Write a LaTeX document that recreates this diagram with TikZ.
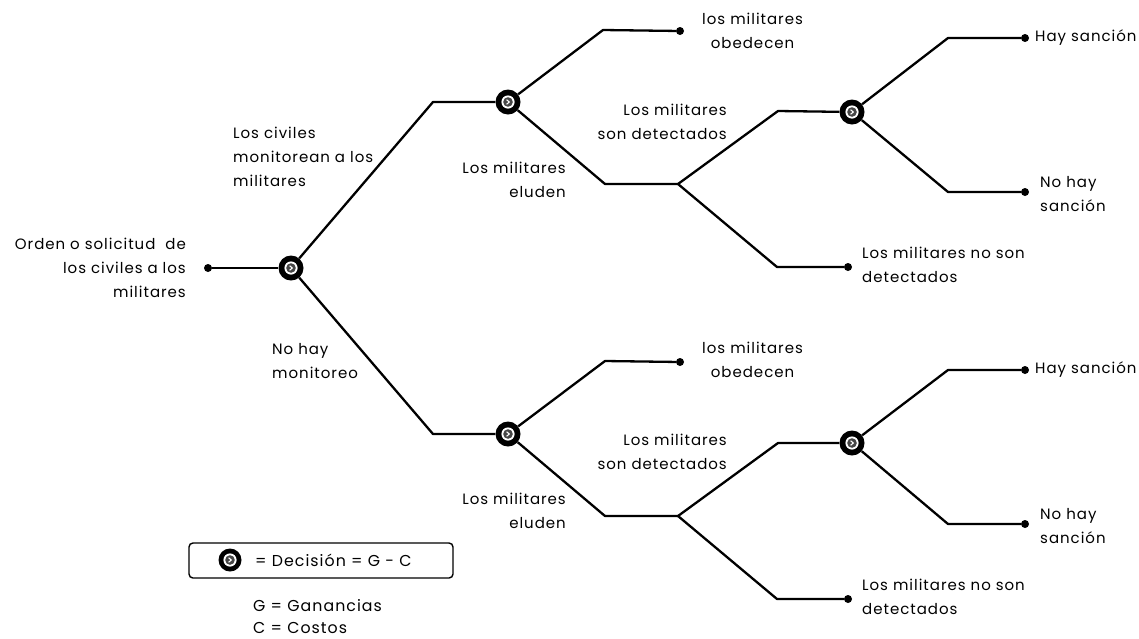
\documentclass[tikz,border=0pt]{standalone}
\usepackage{fontspec}
\setmainfont{Poppins}[LetterSpace=6.5]
\begin{document}
\begin{tikzpicture}[x=1pt,y=-1pt,
  edge/.style={line width=2.3pt,line join=round},
  leaf/.style={circle,fill=black,minimum size=8pt,inner sep=0pt},
  dec/.style={circle,fill=black,minimum size=25pt,inner sep=0pt,
    path picture={
      \fill[white] (path picture bounding box.center) circle (6.6pt);
      \fill[black!72] (path picture bounding box.center) circle (4.8pt);
      \draw[white,line width=1.1pt,line cap=round,line join=round]
        ([xshift=-1.2pt,yshift=2.1pt]path picture bounding box.center) --
        ([xshift=1.3pt]path picture bounding box.center) --
        ([xshift=-1.2pt,yshift=-2.1pt]path picture bounding box.center);}},
  txt/.style={font=\fontsize{15}{24}\selectfont,inner sep=0pt},
  legtxt/.style={txt,anchor=west,font=\fontsize{15.8}{24}\selectfont},
  tl/.style={txt,align=left,anchor=west},
  tr/.style={txt,align=right,anchor=east},
  tc/.style={txt,align=center,anchor=west}]
\useasboundingbox (0,0) rectangle (1139,638);

% root
\node[leaf] (root) at (208,268) {};
\node[tr] (rootlab) at (186,268) {Orden o solicitud\ \ de\\los civiles a los\\militares};
\node[dec] (d0) at (291,268) {};
\draw[edge] (root) -- (d0);

% upper branch
\coordinate (a1) at (433,102);
\node[dec] (d1) at (508,102) {};
\draw[edge] (d0) -- (a1) -- (d1);
\node[tl] (lab1) at (233,157) {Los civiles\\monitorean a los\\militares};

\coordinate (a2) at (603,30);
\node[leaf] (l1) at (680,31) {};
\draw[edge] (d1) -- (a2) -- (l1);
\node[tc] (lab2) at (702,31) {los militares\\obedecen};

\coordinate (a3) at (605,184);
\coordinate (c1) at (678,184);
\draw[edge] (d1) -- (a3) -- (c1);
\node[tr] (lab3) at (566,180) {Los militares\\eluden};

\coordinate (a4) at (778,111);
\node[dec] (d3) at (852,112) {};
\draw[edge] (c1) -- (a4) -- (d3);
\node[tr] (lab4) at (727,122) {Los militares\\son detectados};

\coordinate (a5) at (777,267);
\node[leaf] (l2) at (848,267) {};
\draw[edge] (c1) -- (a5) -- (l2);
\node[tl] (lab5) at (862,265) {Los militares no son\\detectados};

\coordinate (a6) at (948,38);
\node[leaf] (l3) at (1025,38) {};
\draw[edge] (d3) -- (a6) -- (l3);
\node[tl] (lab6) at (1035,38) {Hay sanción};

\coordinate (a7) at (948,192);
\node[leaf] (l4) at (1025,192) {};
\draw[edge] (d3) -- (a7) -- (l4);
\node[tl] (lab7) at (1040,194) {No hay\\sanción};

% lower branch
\coordinate (b1) at (433,434);
\node[dec] (d2) at (508,434) {};
\draw[edge] (d0) -- (b1) -- (d2);
\node[tl] (lab8) at (272,361) {No hay\\monitoreo};

\coordinate (b2) at (605,361);
\node[leaf] (m1) at (680,362) {};
\draw[edge] (d2) -- (b2) -- (m1);
\node[tc] (lab9) at (702,360) {los militares\\obedecen};

\coordinate (b3) at (605,516);
\coordinate (c2) at (678,516);
\draw[edge] (d2) -- (b3) -- (c2);
\node[tr] (lab10) at (566,511) {Los militares\\eluden};

\coordinate (b4) at (778,443);
\node[dec] (d4) at (852,443) {};
\draw[edge] (c2) -- (b4) -- (d4);
\node[tr] (lab11) at (727,452) {Los militares\\son detectados};

\coordinate (b5) at (777,599);
\node[leaf] (m2) at (848,599) {};
\draw[edge] (c2) -- (b5) -- (m2);
\node[tl] (lab12) at (862,597) {Los militares no son\\detectados};

\coordinate (b6) at (948,370);
\node[leaf] (m3) at (1025,370) {};
\draw[edge] (d4) -- (b6) -- (m3);
\node[tl] (lab13) at (1035,370) {Hay sanción};

\coordinate (b7) at (948,524);
\node[leaf] (m4) at (1025,524) {};
\draw[edge] (d4) -- (b7) -- (m4);
\node[tl] (lab14) at (1040,526) {No hay\\sanción};

% legend
\draw[line width=1.4pt,rounded corners=4pt] (189,543) rectangle (453,578);
\node[dec,minimum size=23pt] (legdec) at (230,560) {};
\node[legtxt] (legt) at (255,560) {= Decisión = G - C};
\node[legtxt] (legG) at (253,606) {G = Ganancias};
\node[legtxt] (legC) at (253,628) {C = Costos};
\end{tikzpicture}
\end{document}
